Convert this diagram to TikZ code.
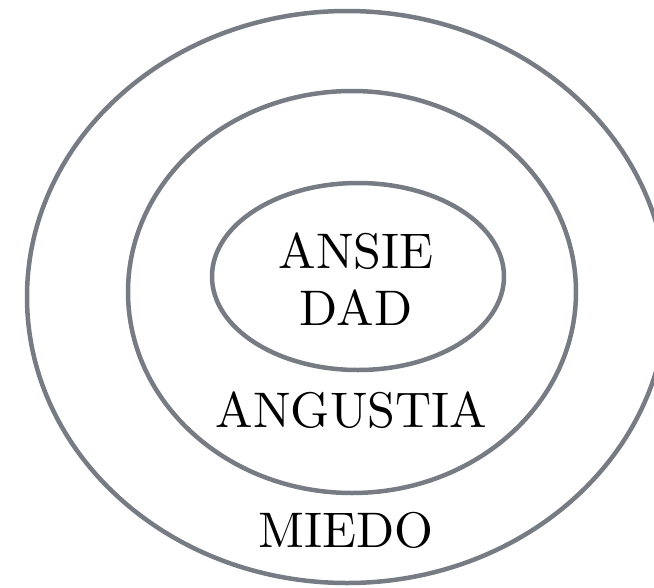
\documentclass[tikz,border=0pt]{standalone}
\usepackage{fontspec}
\usepackage{tikz}
\usetikzlibrary{shapes.geometric}
\newfontfamily\lmten{lmroman10-regular}[Extension=.otf]
\definecolor{ringgray}{RGB}{118,123,132}
\tikzset{
  ring/.style={draw=ringgray, ellipse, line width=4.5pt, inner sep=0pt},
  lbl/.style={font=\lmten\fontsize{50}{57}\selectfont, align=center, inner sep=0pt}
}
\begin{document}
\begin{tikzpicture}[x=1pt, y=-1pt]
  \useasboundingbox (0,0) rectangle (654,587);
  \clip (0,0) rectangle (654,587);
  \node[ring, minimum width=640pt, minimum height=572pt] (ringout) at (347,297) {};
  \node[ring, minimum width=448pt, minimum height=402pt] (ringmid) at (352,292) {};
  \node[ring, minimum width=292pt, minimum height=187pt] (ringin) at (358,276.5) {};
  \node[lbl] (ansiedad) at (356,279) {ANSIE\\DAD};
  \node[lbl] (angustia) at (351.5,410) {ANGUSTIA};
  \node[lbl] (miedo) at (346,530) {MIEDO};
\end{tikzpicture}
\end{document}
